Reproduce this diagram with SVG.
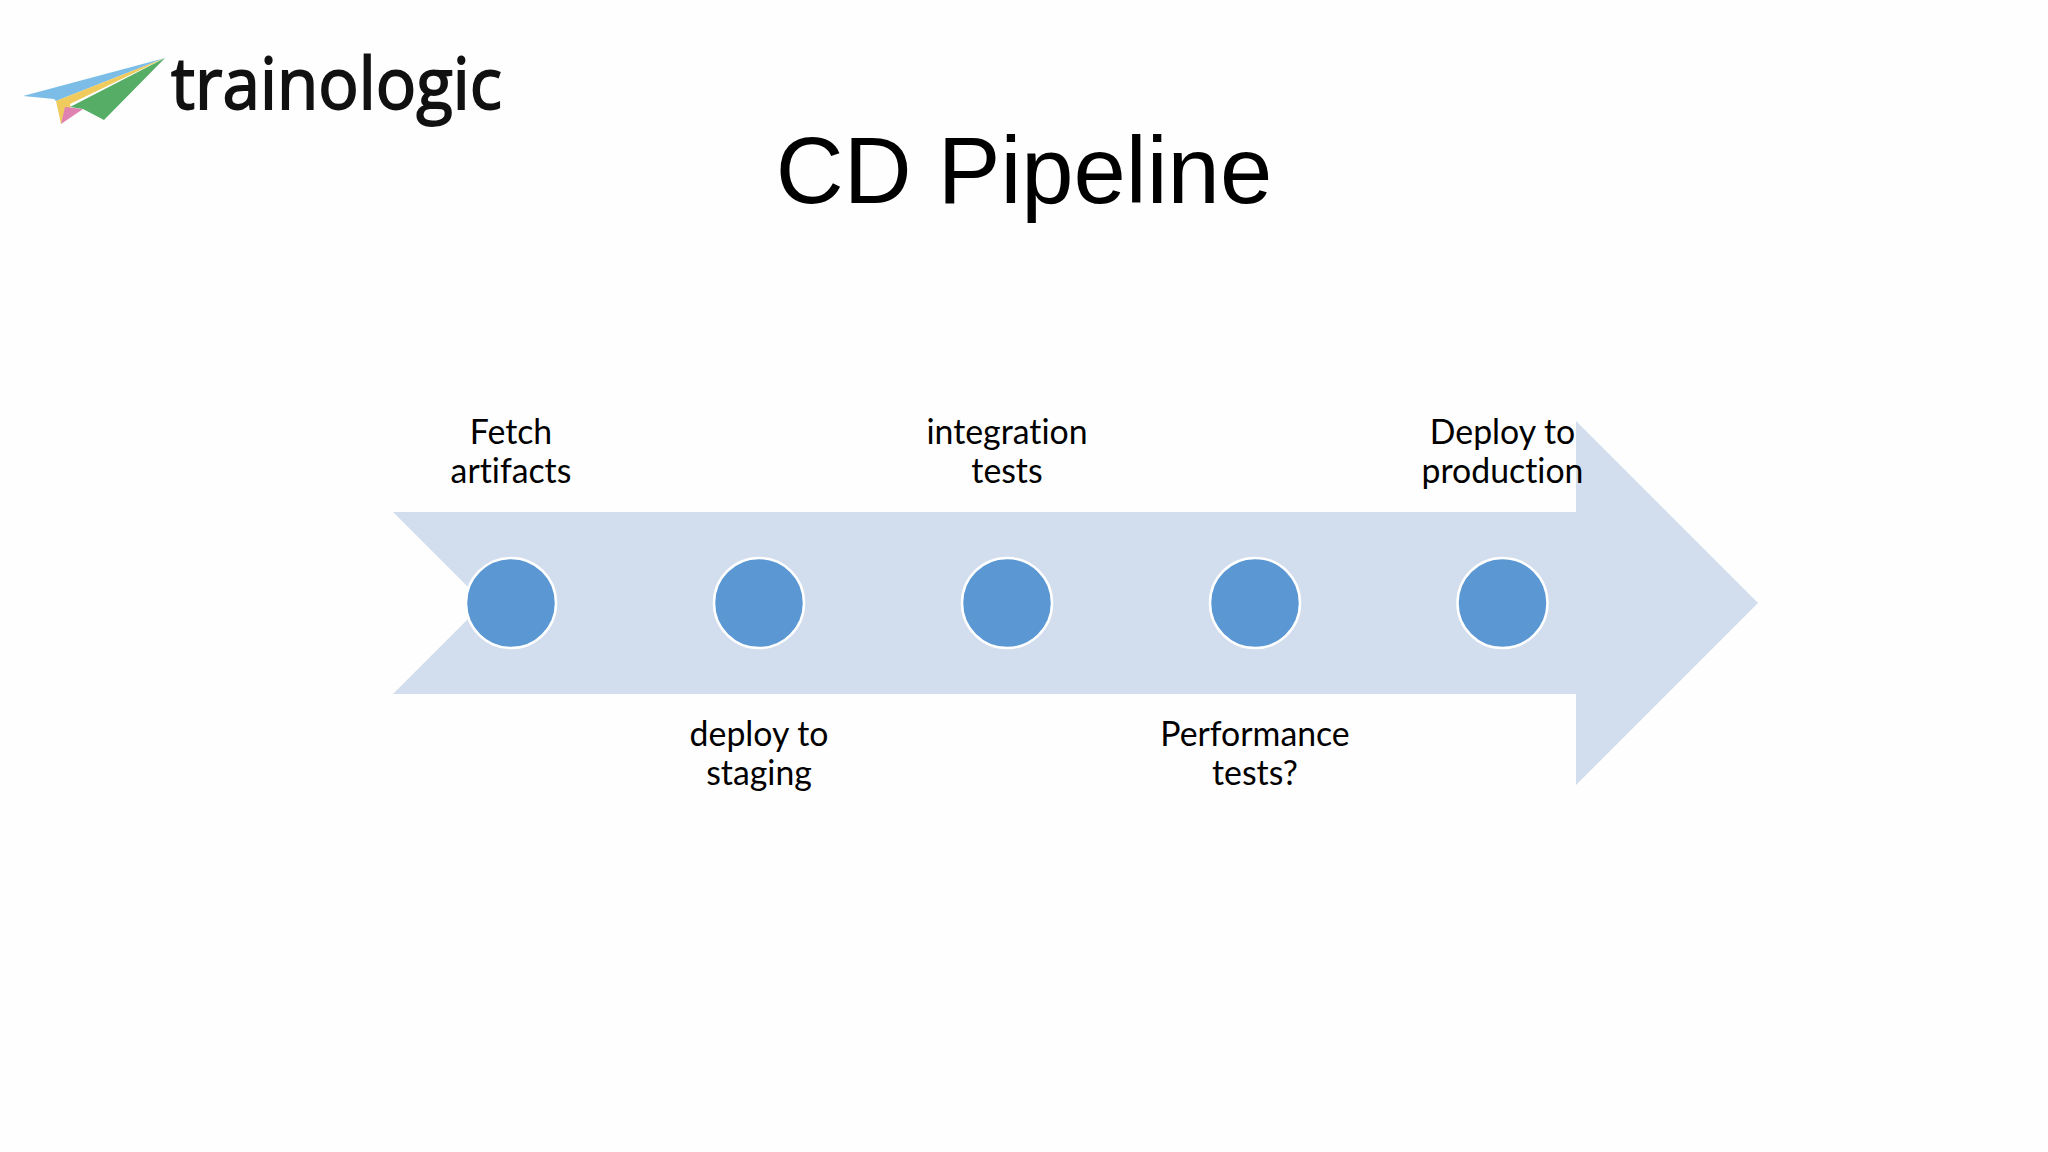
<svg xmlns="http://www.w3.org/2000/svg" width="2048" height="1152" viewBox="0 0 2048 1152">
<style>
.lbl{font-family:"Lato","Open Sans",sans-serif;font-size:33.8px;fill:#000;text-anchor:middle;font-variant-ligatures:none}
.dot{fill:#5b98d3;stroke:#fff;stroke-width:2.5}
</style>
<rect width="2048" height="1152" fill="#fefefe"/>
<g id="logo">
<polygon points="23,96 165,58 56,101 54,99" fill="#7cbde8"/>
<polygon points="56,101 165,58 70,104 71,110 61,124" fill="#efcb5e"/>
<polygon points="65,107 83,109 61,124" fill="#df82b2"/>
<polygon points="70,107 165,58 104,120 83,109" fill="#55ad66"/>
<text x="171" y="109" font-family="'Open Sans',sans-serif" font-size="72" fill="#111" stroke="#111" stroke-width="1.8" textLength="331" lengthAdjust="spacingAndGlyphs">trainologic</text>
</g>
<text id="title" x="1024" y="202.5" font-family="'Liberation Sans',Arial,sans-serif" font-size="94" fill="#000" text-anchor="middle">CD Pipeline</text>
<g id="arrow"><polygon points="393,512 1576,512 1576,421 1758,603 1576,785 1576,694 393,694 484,603" fill="#d2ddee"/></g>
<g id="step1"><circle class="dot" cx="511" cy="603" r="45"/><text class="lbl" x="511" y="443.5">Fetch</text><text class="lbl" x="511" y="482.5">artifacts</text></g>
<g id="step2"><circle class="dot" cx="759" cy="603" r="45"/><text class="lbl" x="759" y="745.5">deploy to</text><text class="lbl" x="759" y="784.5">staging</text></g>
<g id="step3"><circle class="dot" cx="1007" cy="603" r="45"/><text class="lbl" x="1007" y="443.5">integration</text><text class="lbl" x="1007" y="482.5">tests</text></g>
<g id="step4"><circle class="dot" cx="1255" cy="603" r="45"/><text class="lbl" x="1255" y="745.5">Performance</text><text class="lbl" x="1255" y="784.5">tests?</text></g>
<g id="step5"><circle class="dot" cx="1502.5" cy="603" r="45"/><text class="lbl" x="1502.5" y="443.5">Deploy to</text><text class="lbl" x="1502.5" y="482.5">production</text></g>
</svg>
